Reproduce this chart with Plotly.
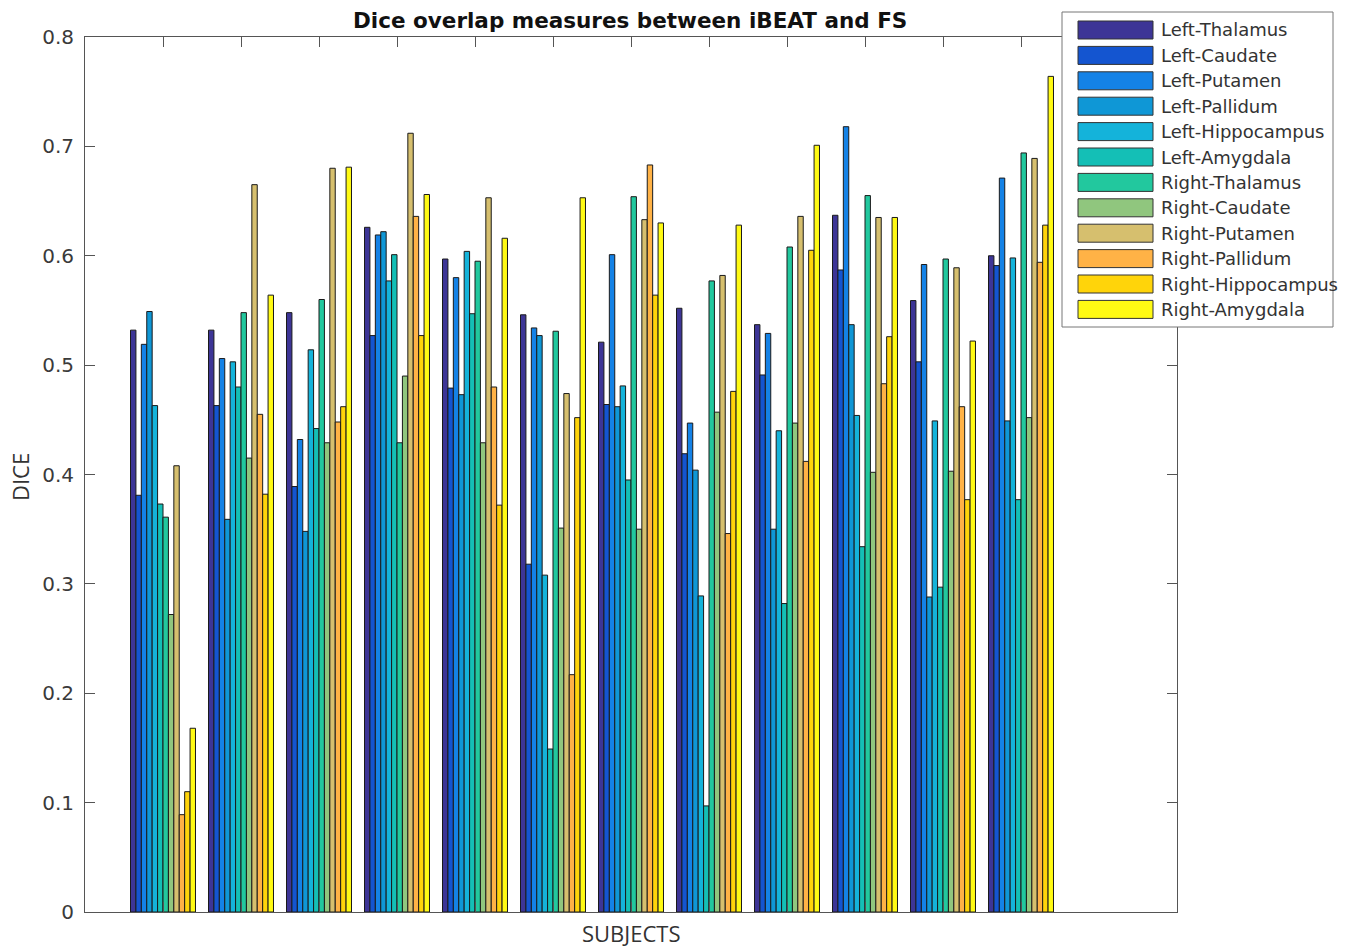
import plotly.graph_objects as go

subjects = list(range(1, 13))

structures = ["Left-Thalamus", "Left-Caudate", "Left-Putamen", "Left-Pallidum",
              "Left-Hippocampus", "Left-Amygdala", "Right-Thalamus", "Right-Caudate",
              "Right-Putamen", "Right-Pallidum", "Right-Hippocampus", "Right-Amygdala"]

colors = ["#3d3596", "#1455d0", "#1482e6", "#0f97d6", "#14b3da", "#14bfb6",
          "#22c89e", "#90c67e", "#d6bf6e", "#ffb246", "#ffd40a", "#fffa14"]

# rows = subjects, columns = structures (in the order above)
subj01 = [0.532, 0.381, 0.519, 0.549, 0.463, 0.373, 0.361, 0.272, 0.408, 0.089, 0.110, 0.168]
subj02 = [0.532, 0.463, 0.506, 0.359, 0.503, 0.480, 0.548, 0.415, 0.665, 0.455, 0.382, 0.564]
subj03 = [0.548, 0.389, 0.432, 0.348, 0.514, 0.442, 0.560, 0.429, 0.680, 0.448, 0.462, 0.681]
subj04 = [0.626, 0.527, 0.619, 0.622, 0.577, 0.601, 0.429, 0.490, 0.712, 0.636, 0.527, 0.656]
subj05 = [0.597, 0.479, 0.580, 0.473, 0.604, 0.547, 0.595, 0.429, 0.653, 0.480, 0.372, 0.616]
subj06 = [0.546, 0.318, 0.534, 0.527, 0.308, 0.149, 0.531, 0.351, 0.474, 0.217, 0.452, 0.653]
subj07 = [0.521, 0.464, 0.601, 0.462, 0.481, 0.395, 0.654, 0.350, 0.633, 0.683, 0.564, 0.630]
subj08 = [0.552, 0.419, 0.447, 0.404, 0.289, 0.097, 0.577, 0.457, 0.582, 0.346, 0.476, 0.628]
subj09 = [0.537, 0.491, 0.529, 0.350, 0.440, 0.282, 0.608, 0.447, 0.636, 0.412, 0.605, 0.701]
subj10 = [0.637, 0.587, 0.718, 0.537, 0.454, 0.334, 0.655, 0.402, 0.635, 0.483, 0.526, 0.635]
subj11 = [0.559, 0.503, 0.592, 0.288, 0.449, 0.297, 0.597, 0.403, 0.589, 0.462, 0.377, 0.522]
subj12 = [0.600, 0.591, 0.671, 0.449, 0.598, 0.377, 0.694, 0.452, 0.689, 0.594, 0.628, 0.764]

rows = [subj01, subj02, subj03, subj04, subj05, subj06,
        subj07, subj08, subj09, subj10, subj11, subj12]

yticks = [0, 0.1, 0.2, 0.3, 0.4, 0.5, 0.6, 0.7, 0.8]
ytick_text = ["0", "0.1", "0.2", "0.3", "0.4", "0.5", "0.6", "0.7", "0.8"]

W, H = 1353, 948
L, R, T, B = 85, 1177, 37, 912

fig = go.Figure()
for j, name in enumerate(structures):
    fig.add_trace(go.Bar(
        x=subjects,
        y=[r[j] for r in rows],
        name=name,
        marker=dict(color=colors[j], line=dict(color="#1a1a1a", width=1)),
        showlegend=False,
    ))

axis_color = "#555555"
fig.update_layout(
    width=W, height=H,
    margin=dict(l=L, r=W - R, t=T, b=H - B, pad=0),
    paper_bgcolor="white", plot_bgcolor="white",
    barmode="group", bargap=0.167, bargroupgap=0,
    showlegend=False,
    font=dict(family="DejaVu Sans", color="#333333"),
)
fig.update_xaxes(
    range=[0, 14], tickvals=subjects, showticklabels=False,
    ticks="inside", ticklen=10, tickcolor=axis_color,
    showline=True, linecolor=axis_color, linewidth=1, mirror="ticks",
    showgrid=False, zeroline=False, automargin=False,
)
fig.update_yaxes(
    range=[0, 0.8], tickvals=yticks, ticktext=ytick_text,
    ticks="inside", ticklen=10, tickcolor=axis_color,
    showline=True, linecolor=axis_color, linewidth=1, mirror="ticks",
    showgrid=False, zeroline=False, automargin=False,
    tickfont=dict(family="DejaVu Sans", size=20, color="#3a3a3a"),
    ticklabelstandoff=6,
)

def px_x(p):
    return (p - L) / (R - L)

def px_y(p):
    return (B - p) / (B - T)

annotations = [
    dict(text="<b>Dice overlap measures between iBEAT and FS</b>", x=px_x(630), y=px_y(20),
         xref="paper", yref="paper", showarrow=False, xanchor="center", yanchor="middle",
         font=dict(family="DejaVu Sans", size=21.5, color="#111111")),
    dict(text="SUBJECTS", x=px_x(631), y=px_y(933),
         xref="paper", yref="paper", showarrow=False, xanchor="center", yanchor="middle",
         font=dict(family="Open Sans", size=22, color="#333333")),
    dict(text="DICE", x=px_x(20), y=px_y(477), textangle=-90,
         xref="paper", yref="paper", showarrow=False, xanchor="center", yanchor="middle",
         font=dict(family="Open Sans", size=22, color="#333333")),
]

# manual legend box
shapes = [dict(type="rect", xref="paper", yref="paper",
               x0=px_x(1062), x1=px_x(1333), y0=px_y(327), y1=px_y(12),
               line=dict(color="#777777", width=1), fillcolor="white", layer="above")]
for j, name in enumerate(structures):
    cy = 30 + j * 25.4
    shapes.append(dict(type="rect", xref="paper", yref="paper",
                       x0=px_x(1078), x1=px_x(1153), y0=px_y(cy + 9), y1=px_y(cy - 9),
                       line=dict(color="#333333", width=1), fillcolor=colors[j], layer="above"))
    annotations.append(dict(text=name, x=px_x(1159), y=px_y(cy), xref="paper", yref="paper",
                            showarrow=False, xanchor="left", yanchor="middle",
                            font=dict(family="DejaVu Sans", size=18, color="#333333")))

fig.update_layout(shapes=shapes, annotations=annotations)
fig.write_html("out.html")
